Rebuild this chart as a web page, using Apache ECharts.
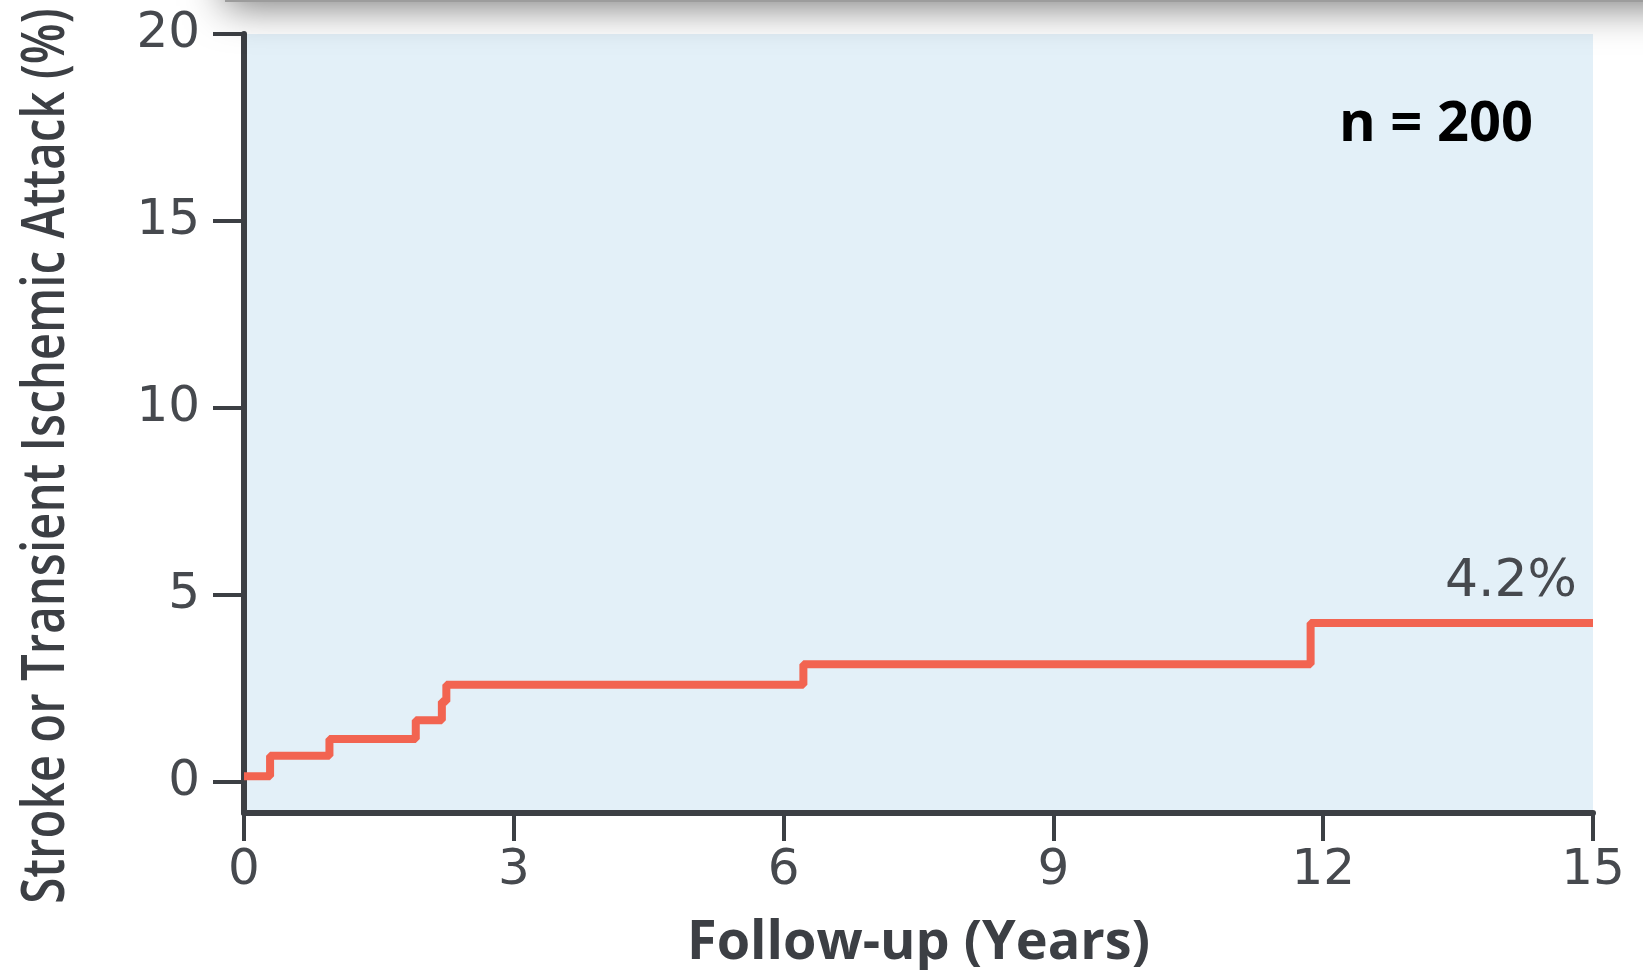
<!DOCTYPE html>
<html>
<head>
<meta charset="utf-8">
<script src="https://cdn.jsdelivr.net/npm/echarts@6/dist/echarts.min.js"></script>
<style>
  html, body { margin: 0; padding: 0; background: #fff; }
  #chart { width: 1643px; height: 970px; }
</style>
</head>
<body>
<div id="chart"></div>
<script>
  // follow-up time (years) where the cumulative curve steps up
  let years = [0, 0.29, 0.95, 1.91, 2.2, 2.25, 6.22, 11.86, 15];
  // cumulative stroke / TIA (%)
  let incidence = [0.15, 0.7, 1.15, 1.65, 2.15, 2.6, 3.15, 4.25, 4.25];
  let yTicks = [0, 5, 10, 15, 20];
  let xTicks = [0, 3, 6, 9, 12, 15];
  let finalLabel = '4.2%';
  let sampleSize = 'n = 200';

  let axisColor = '#3c3f44';
  let textColor = '#46494e';

  let points = years.map((t, i) => [t, incidence[i]]);

  let chart = echarts.init(document.getElementById('chart'));
  let options = {
    backgroundColor: '#fff',
    animation: false,
    title: {
      text: sampleSize,
      left: 1334,
      top: 92,
      textStyle: {
        fontFamily: 'Open Sans',
        fontWeight: 'bold',
        fontSize: 56,
        color: '#000'
      }
    },
    grid: {
      left: 244,
      right: 50,
      top: 34,
      bottom: 157,
      outerBoundsMode: 'none',
      show: true,
      backgroundColor: '#e3f0f8',
      borderWidth: 0
    },
    xAxis: {
      type: 'value',
      min: xTicks[0],
      max: xTicks[xTicks.length - 1],
      interval: 3,
      name: 'Follow-up (Years)',
      nameLocation: 'middle',
      nameGap: 104,
      nameTextStyle: {
        fontFamily: 'Open Sans',
        fontWeight: 700,
        fontSize: 54,
        color: axisColor
      },
      axisLine: { show: true, onZero: false, lineStyle: { color: axisColor, width: 6 } },
      axisTick: { show: true, length: 28, lineStyle: { color: axisColor, width: 4 } },
      axisLabel: {
        margin: 33,
        fontFamily: 'DejaVu Sans',
        fontSize: 50,
        color: textColor
      },
      splitLine: { show: false }
    },
    yAxis: {
      type: 'value',
      min: -0.83,
      max: 20,
      axisLine: { show: true, lineStyle: { color: axisColor, width: 6 } },
      axisTick: {
        show: true,
        length: 31,
        customValues: yTicks,
        lineStyle: { color: axisColor, width: 4 }
      },
      axisLabel: {
        margin: 44,
        customValues: yTicks,
        fontFamily: 'DejaVu Sans',
        fontSize: 50,
        color: textColor
      },
      splitLine: { show: false }
    },
    graphic: [
      {
        // grey shadow band along the top edge
        type: 'rect',
        shape: { x: 225, y: -60, width: 1500, height: 62 },
        style: {
          fill: '#9c9c9c',
          shadowBlur: 40,
          shadowColor: 'rgba(0,0,0,0.55)',
          shadowOffsetY: 4
        },
        z: 100
      },
      {
        type: 'text',
        x: 47,
        y: 456,
        rotation: Math.PI / 2,
        scaleX: 0.79,
        style: {
          text: 'Stroke or Transient Ischemic Attack (%)',
          font: '600 60px "Open Sans"',
          fill: axisColor,
          align: 'center',
          verticalAlign: 'middle'
        }
      }
    ],
    series: [
      {
        type: 'line',
        step: 'end',
        data: points,
        showSymbol: false,
        lineStyle: { color: '#f26451', width: 8 },
        markPoint: {
          symbol: 'circle',
          symbolSize: 0,
          data: [{ coord: points[points.length - 1] }],
          label: {
            show: true,
            formatter: finalLabel,
            position: [-16, -15],
            align: 'right',
            verticalAlign: 'bottom',
            fontFamily: 'DejaVu Sans',
            fontSize: 52,
            color: textColor
          }
        }
      }
    ]
  };
  chart.setOption(options);
</script>
</body>
</html>
